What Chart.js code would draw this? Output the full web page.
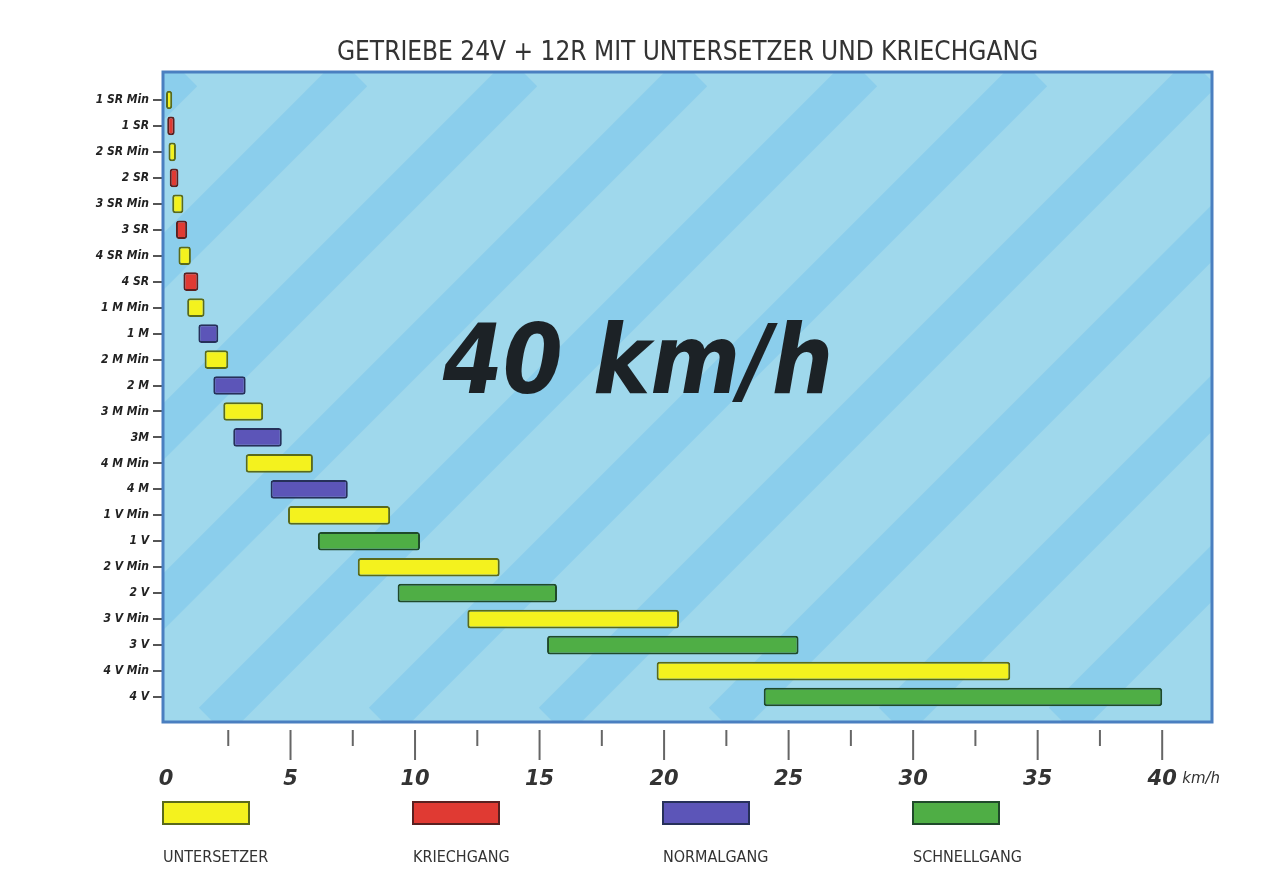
<!DOCTYPE html>
<html><head><meta charset="utf-8">
<script src="https://cdn.jsdelivr.net/npm/chart.js@4"></script>
<style>html,body{margin:0;padding:0;background:#fff;}#w{width:1279px;height:870px;}</style>
</head><body><div id="w"><canvas id="c" width="1279" height="870"></canvas></div>
<script>
const categories = ["1 SR Min","1 SR","2 SR Min","2 SR","3 SR Min","3 SR","4 SR Min","4 SR","1 M Min","1 M","2 M Min","2 M","3 M Min","3M","4 M Min","4 M","1 V Min","1 V","2 V Min","2 V","3 V Min","3 V","4 V Min","4 V"];
const starts = [0.0,0.05,0.1,0.15,0.25,0.4,0.5,0.7,0.85,1.3,1.55,1.9,2.3,2.7,3.2,4.2,4.9,6.1,7.7,9.3,12.1,15.3,19.7,24.0];
const ends   = [0.25,0.35,0.4,0.5,0.7,0.85,1.0,1.3,1.55,2.1,2.5,3.2,3.9,4.65,5.9,7.3,9.0,10.2,13.4,15.7,20.6,25.4,33.9,40.0];
const types  = ["U","K","U","K","U","K","U","K","U","N","U","N","U","N","U","N","U","S","U","S","U","S","U","S"];
const typeNames = {U:"UNTERSETZER",K:"KRIECHGANG",N:"NORMALGANG",S:"SCHNELLGANG"};
const typeColors = {U:"#f4f21e",K:"#e03a33",N:"#5c55b8",S:"#4fae45"};
const typeBorders = {U:"#5a6a1a",K:"#5a2020",N:"#26305a",S:"#1f4a2a"};
const xTicks = [0,5,10,15,20,25,30,35,40];
const titleText = "GETRIEBE 24V + 12R MIT UNTERSETZER UND KRIECHGANG";
const bigText = "40 km/h";
const PT=72, PB=722;

const deco = {
  id:'deco',
  beforeDatasetsDraw(ch){
    const {ctx,chartArea:a}=ch;
    ctx.save();
    ctx.fillStyle='#9fd8ec';ctx.fillRect(a.left,PT,a.right-a.left,PB-PT);
    ctx.beginPath();ctx.rect(a.left,PT,a.right-a.left,PB-PT);ctx.clip();
    ctx.strokeStyle='rgba(120,195,235,0.5)';ctx.lineWidth=40;
    for(let i=-800;i<1400;i+=170){ctx.beginPath();ctx.moveTo(a.left+i,PB);ctx.lineTo(a.left+i+650,PT);ctx.stroke();}
    ctx.restore();
    ctx.save();
    ctx.font='italic bold 96px "DejaVu Sans Condensed", "Liberation Sans Narrow", sans-serif';
    ctx.fillStyle='#1c2226';ctx.textAlign='center';ctx.textBaseline='middle';
    ctx.fillText(bigText,638,368);
    ctx.restore();
  },
  afterDraw(ch){
    const {ctx,chartArea:a}=ch;const x=ch.scales.x;
    ctx.save();
    ctx.strokeStyle='#4a7fc0';ctx.lineWidth=3;ctx.strokeRect(a.left,PT,a.right-a.left,PB-PT);
    ctx.fillStyle='#333';ctx.font='26px "DejaVu Sans Condensed", sans-serif';ctx.textAlign='center';ctx.textBaseline='alphabetic';
    ctx.fillText(titleText,(a.left+a.right)/2,60);
    ctx.strokeStyle='#666';ctx.lineWidth=2;
    for(let v=2.5;v<=40;v+=2.5){
      const px=x.getPixelForValue(v);const maj=v%5===0;
      ctx.beginPath();ctx.moveTo(px,PB+8);ctx.lineTo(px,PB+(maj?38:24));ctx.stroke();
    }
    ctx.fillStyle='#333';ctx.font='italic bold 21px "DejaVu Sans", sans-serif';ctx.textAlign='center';
    xTicks.forEach(v=>{ctx.fillText(String(v),x.getPixelForValue(v),785);});
    ctx.font='italic 15px "DejaVu Sans", sans-serif';ctx.textAlign='left';
    ctx.fillText('km/h',x.getPixelForValue(40)+20,783);
    const keys=['U','K','N','S'];const lx=[163,413,663,913];
    keys.forEach((k,i)=>{
      ctx.fillStyle=typeColors[k];ctx.strokeStyle=typeBorders[k];ctx.lineWidth=2;
      ctx.fillRect(lx[i],802,86,22);ctx.strokeRect(lx[i],802,86,22);
      ctx.fillStyle='#333';ctx.font='16px "DejaVu Sans Condensed", sans-serif';ctx.textAlign='left';
      ctx.fillText(typeNames[k],lx[i],862);
    });
    ctx.restore();
  }
};

new Chart(document.getElementById('c'),{
  type:'bar',
  data:{labels:categories,datasets:[{
    data:starts.map((s,i)=>[s,ends[i]]),
    backgroundColor:types.map(t=>typeColors[t]),
    borderColor:types.map(t=>typeBorders[t]),
    borderWidth:2,borderRadius:3,borderSkipped:false,
    barPercentage:0.72,categoryPercentage:1
  }]},
  options:{
    indexAxis:'y',responsive:false,animation:false,
    layout:{padding:{left:0,right:67,top:87,bottom:0}},
    plugins:{legend:{display:false},tooltip:{enabled:false}},
    scales:{
      x:{min:-0.12,max:42,ticks:{display:false},grid:{display:false},border:{display:false},
         afterFit:s=>{s.height=160;}},
      y:{grid:{drawOnChartArea:false,tickLength:10,color:'#555',lineWidth:2,offset:false},border:{display:false},
         ticks:{color:'#222',font:{family:'"DejaVu Sans Condensed", sans-serif',size:12,style:'italic',weight:'bold'},padding:4},
         afterFit:s=>{s.width=163;}}
    }
  },
  plugins:[deco]
});
</script></body></html>
